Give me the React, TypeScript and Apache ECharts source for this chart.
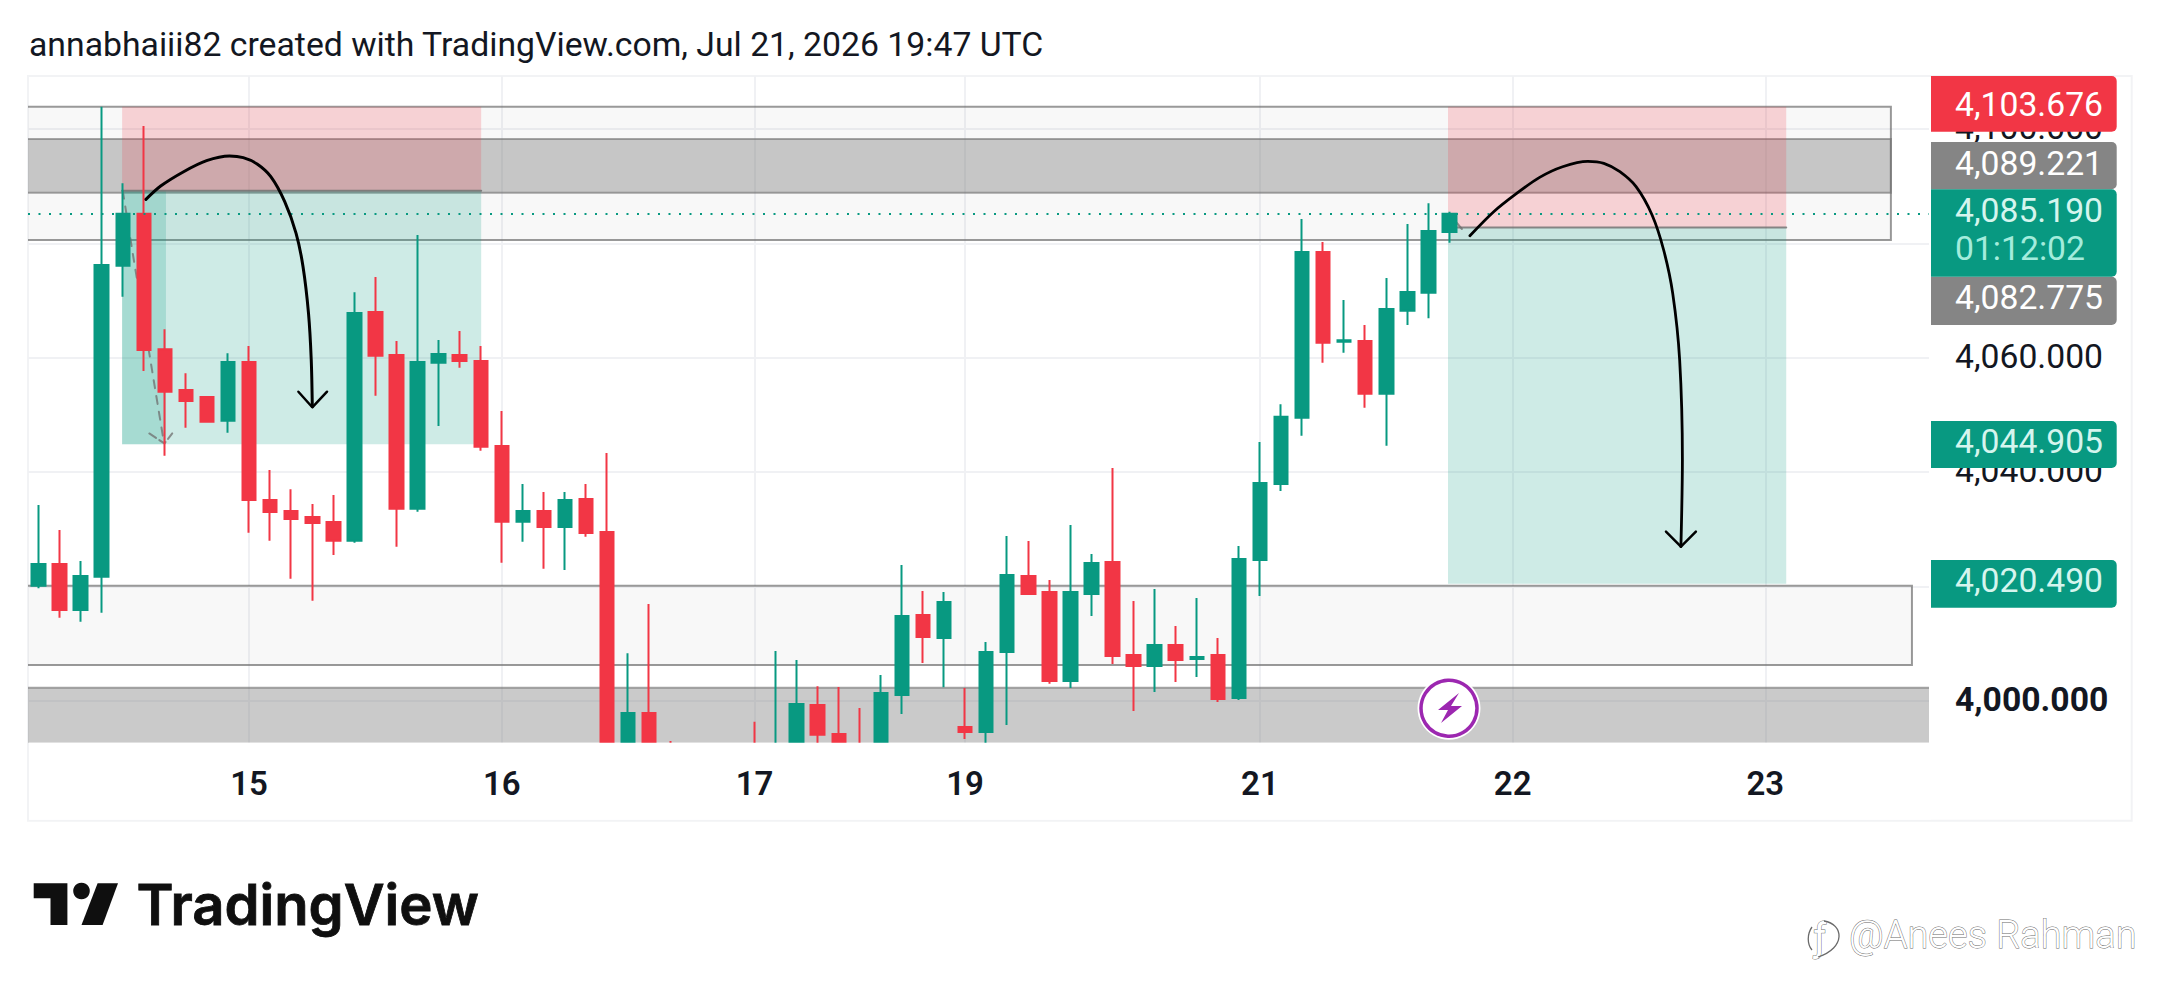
import React, { useEffect, useRef } from "react";
import * as echarts from "echarts";

const headerText = "annabhaiii82 created with TradingView.com, Jul 21, 2026 19:47 UTC";
const dayLabels = ["15", "16", "17", "19", "21", "22", "23"];
const dayTicks = [10, 22, 34, 44, 58, 70, 82];
const priceTicks = [4000, 4020, 4040, 4060, 4080, 4100];

const opens = [4020.16,4023.95,4015.91,4021.73,4076.10,4085.19,4061.49,4054.37,4053.15,4049.00,4059.27,4035.14,4033.22,4032.17,4031.29,4028.02,4068.01,4060.49,4033.62,4059.14,4060.49,4059.44,4044.58,4031.35,4033.22,4030.42,4035.31,4029.55,3989,3997.90,3991,3985,3988,3986,3990,3986,3991,3999.30,3994.23,3991,3990,4001.05,4015.03,4011.01,3995.45,3994.58,4008.57,4021.85,4019.06,4003.50,4018.71,4024.30,4008.04,4006.12,4009.79,4007.34,4008.04,4000.52,4024.65,4037.94,4049.53,4078.50,4062.81,4062.94,4053.72,4068.23,4071.38,4081.99];
const closes = [4023.95,4015.91,4021.85,4076.22,4085.19,4061.36,4054.07,4052.45,4048.83,4059.27,4035.14,4033.04,4031.82,4031.12,4028.02,4067.83,4060.37,4033.62,4059.27,4060.66,4059.44,4044.46,4031.35,4033.22,4030.42,4035.14,4029.37,3988,3997.90,3990,3988,3988,3986,3989,3987,3990,3999.48,3994.11,3990,3989,4001.40,4014.86,4011.19,4017.31,3994.58,4008.57,4022.03,4018.71,4003.50,4019.06,4024.13,4007.87,4006.12,4009.79,4007.17,4007.69,4000.35,4024.83,4038.11,4049.70,4078.50,4062.64,4063.06,4053.72,4068.53,4071.50,4082.17,4085.19];
const lows = [4019.70,4014.56,4013.86,4015.44,4070.68,4057.69,4042.88,4047.78,4048.65,4046.91,4029.42,4028.02,4021.38,4017.53,4025.52,4027.67,4053.37,4026.98,4033.09,4048.08,4058.27,4043.76,4024.18,4027.85,4023.13,4022.90,4028.72,3986,3987,3988,3986,3984,3984,3984,3985,3984,3989,3992,3988,3987,3988,3997.73,4006.64,4002.40,3993.36,3991,3995.80,4018.53,4003.02,4002.27,4014.86,4006.47,3998.25,4001.57,4003.32,4004.20,3999.83,4000.17,4018.36,4036.71,4046.38,4059.14,4060.89,4051.28,4044.63,4065.73,4066.91,4080.12];
const highs = [4034.27,4029.90,4024.48,4103.90,4090.51,4100.52,4064.98,4057.29,4053.15,4060.79,4062.06,4040.38,4037.01,4034.44,4036.01,4071.45,4074.13,4062.94,4081.47,4063.11,4064.69,4062.06,4050.70,4037.94,4036.54,4036.54,4037.94,4043.36,4008.34,4016.96,3993.01,3990,3990,3991,3996.38,4008.74,4007.17,4002.57,4002.45,3998.78,4004.55,4023.78,4019.23,4019.06,4002.27,4010.31,4028.85,4027.97,4021.15,4030.77,4025.70,4040.73,4017.48,4019.58,4013.11,4018.01,4011.01,4027.10,4045.28,4051.87,4084.27,4080.24,4070.10,4065.73,4073.95,4083.39,4087.01,4085.54];

// [from index, to index, upper price, lower price]
const lightZones = [[-1, 87.96, 4103.9, 4080.59], [-1, 88.96, 4020.16, 4006.29]];
const grayZones = [[-1, 87.96, 4098.25, 4088.86], [-1, 90.5, 4002.33, 3990]];
const riskBoxes = [[3.97, 21.02, 4103.9, 4089.22], [66.93, 82.99, 4103.9, 4082.78]];
const rewardBoxes = [[3.97, 21.02, 4089.22, 4044.9], [66.93, 82.99, 4082.78, 4020.49]];
const movedBoxes = [[3.97, 6.05, 4089.22, 4044.9]];
const entryLeft = [[3.97, 4089.22], [21.02, 4089.22]];
const entryRight = [[66.93, 4082.78], [82.99, 4082.78]];

const currentPrice = 4085.19;

const leftCurve = [[5.10,4087.70],[5.80,4090.03],[6.89,4092.54],[7.98,4094.47],[9.07,4095.28],[9.72,4094.99],[10.38,4093.88],[11.03,4091.67],[11.69,4087.30],[12.23,4081.77],[12.56,4075.93],[12.82,4067.77],[12.95,4059.62],[13.0,4051.46]];
const leftHead = [[12.34,4054.07],[13.0,4051.35],[13.70,4054.07]];
const rightCurve = [[67.97,4081.35],[69.10,4085.55],[70.19,4088.75],[71.28,4091.55],[72.37,4093.41],[73.57,4094.35],[74.33,4094.0],[75.09,4092.54],[75.86,4089.92],[76.62,4084.97],[77.17,4078.85],[77.60,4071.27],[77.93,4059.62],[78.06,4042.13],[77.99,4026.98]];
const rightHead = [[77.28,4029.60],[77.99,4026.98],[78.70,4029.60]];
const dashedPath = [[4.0,4089.21],[4.5,4077.67],[5.26,4060.77],[5.91,4046.19]];
const dashedHead = [[5.26,4046.78],[5.98,4045.03],[6.35,4046.78]];
const dashedShort = [[67,4085.14],[67.59,4082.52]];

const priceTags = [
  { text: "4,103.676", top: 76, bottom: 131.7, mid: 104.3, kind: "red" },
  { text: "4,089.221", top: 142, bottom: 189.3, mid: 163.3, kind: "gray" },
  { text: "4,082.775", top: 276.7, bottom: 325, mid: 297.3, kind: "gray" },
  { text: "4,085.190", top: 189.3, bottom: 276.7, mid: 210, kind: "green", sub: "01:12:02", subMid: 248.3 },
  { text: "4,044.905", top: 421, bottom: 468, mid: 441.7, kind: "green" },
  { text: "4,020.490", top: 560, bottom: 607.7, mid: 580, kind: "green" },
];

const UP = "#089981";
const DOWN = "#F23645";
const GRID = "#f0f1f4";
const INK = "#131722";
const FONT = "Roboto";
const PRICE_SIZE = 33.7;
const TAG: Record<string, string> = { red: DOWN, gray: "#858585", green: UP };

const fmtPrice = (v: number) =>
  v.toLocaleString("en-US", { minimumFractionDigits: 3, maximumFractionDigits: 3 });

const boxSeries = (name: string, data: number[][], fill: string, stroke?: string) => ({
  type: "custom",
  name,
  coordinateSystem: "cartesian2d",
  clip: true,
  silent: true,
  z: 1,
  encode: { x: [0, 1], y: [2, 3] },
  data,
  renderItem: (_p: any, api: any) => {
    const a = api.coord([api.value(0), api.value(2)]);
    const b = api.coord([api.value(1), api.value(3)]);
    return {
      type: "rect",
      shape: { x: a[0], y: a[1], width: b[0] - a[0], height: b[1] - a[1] },
      style: { fill, stroke: stroke || "none", lineWidth: stroke ? 2 : 0 },
    };
  },
});

const pathSeries = (name: string, data: number[][], color: string, width: number, z: number, dash?: any, smooth?: number) => ({
  type: "line",
  name,
  data,
  silent: true,
  showSymbol: false,
  symbol: "none",
  smooth: smooth || false,
  z,
  lineStyle: { color, width, type: dash || "solid", cap: "round", join: "round" },
});

function overlay() {
  const z = 50;
  const items: any[] = [
    { type: "rect", z: 0, silent: true, shape: { x: 28, y: 76, width: 2103.7, height: 744.7 }, style: { fill: "none", stroke: "#f2f3f5", lineWidth: 2 } },
    // candles that run past the bottom of the pane stop at its edge
    { type: "rect", z: 10, silent: true, shape: { x: 29, y: 742.7, width: 1902, height: 77 }, style: { fill: "#fff" } },
    { type: "text", z, x: 29, y: 44.5, style: { text: headerText, fontFamily: FONT, fontSize: 33.75, fill: INK, align: "left", verticalAlign: "middle" } },
  ];
  priceTags.forEach((t) => {
    items.push({ type: "rect", z, shape: { x: 1931, y: t.top, width: 185.7, height: t.bottom - t.top, r: [0, 5, 5, 0] }, style: { fill: TAG[t.kind] } });
    items.push({ type: "text", z: z + 1, x: 1955, y: t.mid, style: { text: t.text, fontFamily: FONT, fontSize: PRICE_SIZE, fill: t.kind === "green" ? "#d5f5ee" : "#fff", align: "left", verticalAlign: "middle" } });
    if (t.sub) items.push({ type: "text", z: z + 1, x: 1955, y: t.subMid, style: { text: t.sub, fontFamily: FONT, fontSize: PRICE_SIZE, fill: "#a3ecdc", align: "left", verticalAlign: "middle" } });
  });
  // lightning badge
  items.push({ type: "circle", z, shape: { cx: 1449, cy: 708.3, r: 31.5 }, style: { fill: "#fff" } });
  items.push({ type: "circle", z, shape: { cx: 1449, cy: 708.3, r: 28 }, style: { fill: "#fff", stroke: "#9c27b0", lineWidth: 3.5 } });
  items.push({ type: "polygon", z, shape: { points: [[1459, 693], [1438, 710], [1448, 710], [1441, 723], [1462, 706], [1451, 706]] }, style: { fill: "#9c27b0" } });
  // TradingView logo
  items.push({ type: "polygon", shape: { points: [[33.7, 883.3], [67.4, 883.3], [67.4, 925], [50.5, 925], [50.5, 898.3], [33.7, 898.3]] }, style: { fill: "#0f0f0f" } });
  items.push({ type: "circle", shape: { cx: 81.5, cy: 891, r: 8.3 }, style: { fill: "#0f0f0f" } });
  items.push({ type: "polygon", shape: { points: [[97.6, 883.3], [118, 883.3], [102.6, 925], [81.5, 925]] }, style: { fill: "#0f0f0f" } });
  items.push({ type: "text", x: 136.5, y: 905, style: { text: "TradingView", fontFamily: "Inter", fontWeight: 600, fontSize: 56.2, fill: "#0f0f0f", stroke: "#0f0f0f", lineWidth: 0.8, align: "left", verticalAlign: "middle" } });
  // watermark
  items.push({ type: "text", x: 1849, y: 935, style: { text: "@Anees Rahman", fontFamily: FONT, fontWeight: 300, fontSize: 38, fill: "#fff", stroke: "#6a6a6a", lineWidth: 0.9, align: "left", verticalAlign: "middle" } });
  items.push({ type: "text", x: 1820, y: 938, style: { text: "ƒ", fontFamily: FONT, fontSize: 38, fill: "#fff", stroke: "#6a6a6a", lineWidth: 0.9, align: "center", verticalAlign: "middle" } });
  items.push({ type: "bezierCurve", shape: { x1: 1824, y1: 921, cpx1: 1844, cpy1: 924, cpx2: 1846, cpy2: 948, x2: 1818, y2: 957 }, style: { fill: "none", stroke: "#6a6a6a", lineWidth: 1.3 } });
  items.push({ type: "bezierCurve", shape: { x1: 1812, y1: 927, cpx1: 1807, cpy1: 934, cpx2: 1807, cpy2: 944, x2: 1812, y2: 950 }, style: { fill: "none", stroke: "#6a6a6a", lineWidth: 1.3 } });
  return items;
}

export default function App() {
  const ref = useRef<HTMLDivElement>(null);
  useEffect(() => {
    document.body.style.margin = "0";
    const chart = echarts.init(ref.current!, undefined, { renderer: "svg" });
    chart.setOption({
      animation: false,
      backgroundColor: "#ffffff",
      grid: { left: 28, top: 76, width: 1901, height: 666.7, containLabel: false },
      xAxis: [
        {
          // gridlines, under the marks
          type: "value",
          min: -0.5,
          max: 89.77,
          axisLine: { show: false },
          axisTick: { show: false, customValues: dayTicks },
          splitLine: { show: true, lineStyle: { color: GRID, width: 2 } },
          axisLabel: { show: false },
        },
        {
          // day labels, above the strip that closes the pane
          type: "value",
          position: "bottom",
          z: 20,
          min: -0.5,
          max: 89.77,
          axisLine: { show: false },
          axisTick: { show: false, customValues: dayTicks },
          splitLine: { show: false },
          axisLabel: {
            customValues: dayTicks,
            margin: 24,
            fontFamily: FONT,
            fontSize: 33,
            fontWeight: 600,
            color: INK,
            formatter: (v: number) => dayLabels[dayTicks.indexOf(v)] ?? "",
          },
        },
      ],
      yAxis: {
        type: "value",
        position: "right",
        min: 3992.71,
        max: 4109.27,
        axisLine: { show: false },
        axisTick: { show: false, customValues: priceTicks },
        splitLine: { show: true, lineStyle: { color: GRID, width: 2 } },
        axisLabel: {
          customValues: priceTicks,
          margin: 26,
          padding: [0, 0, 3, 0],
          fontFamily: FONT,
          fontSize: PRICE_SIZE,
          color: INK,
          formatter: (v: number) => (v === 4000 ? `{b|${fmtPrice(v)}}` : fmtPrice(v)),
          rich: { b: { fontFamily: FONT, fontSize: PRICE_SIZE, fontWeight: "bold", color: INK } },
        },
      },
      graphic: overlay(),
      series: [
        boxSeries("Light zones", lightZones, "rgba(128,128,128,0.055)", "rgba(110,110,110,0.7)"),
        boxSeries("Gray zones", grayZones, "rgba(128,128,128,0.42)", "rgba(110,110,110,0.6)"),
        boxSeries("Risk", riskBoxes, "rgba(242,54,69,0.2)"),
        boxSeries("Reward", rewardBoxes, "rgba(8,153,129,0.2)"),
        boxSeries("Moved", movedBoxes, "rgba(8,153,129,0.2)"),
        pathSeries("Entry left", entryLeft, "rgba(110,110,110,0.8)", 2, 1),
        pathSeries("Entry right", entryRight, "rgba(110,110,110,0.8)", 2, 1),
        pathSeries("Projection", dashedPath, "rgba(110,110,110,0.75)", 2, 1, [8, 8]),
        pathSeries("Projection head", dashedHead, "rgba(110,110,110,0.75)", 2, 1, [8, 4]),
        pathSeries("Projection short", dashedShort, "rgba(110,110,110,0.75)", 2, 1),
        {
          type: "candlestick",
          name: "XAU",
          barWidth: 14,
          z: 3,
          silent: true,
          data: opens.map((o, i) => [i, o, closes[i], lows[i], highs[i]]),
          itemStyle: { color: UP, color0: DOWN, borderColor: UP, borderColor0: DOWN, borderWidth: 2 },
          markLine: {
            silent: true,
            symbol: "none",
            label: { show: false },
            lineStyle: { color: UP, width: 2, type: [2, 8.5] },
            data: [{ yAxis: currentPrice }],
          },
        },
        pathSeries("Left arrow", leftCurve, "#000", 3, 5, undefined, 0.3),
        pathSeries("Left arrow head", leftHead, "#000", 2.5, 5),
        pathSeries("Right arrow", rightCurve, "#000", 2.8, 5, undefined, 0.3),
        pathSeries("Right arrow head", rightHead, "#000", 2.5, 5),
      ],
    });
    return () => chart.dispose();
  }, []);
  return <div ref={ref} style={{ position: "fixed", left: 0, top: 0, width: 2159, height: 990, background: "#fff" }} />;
}
